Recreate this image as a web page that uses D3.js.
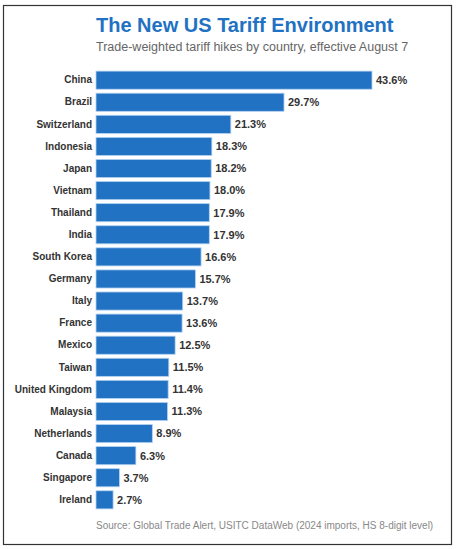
<!DOCTYPE html>
<html>
<head>
<meta charset="utf-8">
<script src="https://cdn.jsdelivr.net/npm/d3@7"></script>
<style>
  html, body { margin: 0; padding: 0; background: #fff; }
  svg { display: block; font-family: "Liberation Sans", Arial, sans-serif; }
</style>
</head>
<body>
<div class="container"></div>
<script>
const countries = ['China', 'Brazil', 'Switzerland', 'Indonesia', 'Japan', 'Vietnam', 'Thailand',
    'India', 'South Korea', 'Germany', 'Italy', 'France', 'Mexico', 'Taiwan', 'United Kingdom',
    'Malaysia', 'Netherlands', 'Canada', 'Singapore', 'Ireland'];
const tariffs = [43.6, 29.7, 21.3, 18.3, 18.2, 18.0, 17.9, 17.9, 16.6, 15.7, 13.7, 13.6, 12.5,
    11.5, 11.4, 11.3, 8.9, 6.3, 3.7, 2.7];

const WIDTH = 457;
const HEIGHT = 549;
const LEFT = 96;

var svg = d3.select('.container').append('svg')
    .attr('width', WIDTH)
    .attr('height', HEIGHT);

// frame
svg.append('rect')
    .attr('x', 3.5).attr('y', 5.5)
    .attr('width', 448).attr('height', 539)
    .attr('fill', '#fff')
    .attr('stroke', '#333')
    .attr('stroke-width', 1.2);

svg.append('text')
    .attr('x', LEFT).attr('y', 32)
    .attr('fill', '#2272c3')
    .attr('font-size', 20)
    .attr('font-weight', 'bold')
    .text('The New US Tariff Environment');

svg.append('text')
    .attr('x', LEFT).attr('y', 51)
    .attr('fill', '#666')
    .attr('font-size', 12.5)
    .text('Trade-weighted tariff hikes by country, effective August 7');

var xScale = d3.scaleLinear()
    .domain([0, 43.6])
    .range([LEFT, 372]);

var yScale = d3.scaleBand()
    .domain(countries)
    .range([70, 510])
    .paddingInner(0.18)
    .paddingOuter(0.05);

var data = countries.map((c, i) => ({ country: c, value: tariffs[i] }));

var g = svg.append('g');

g.selectAll('rect.bar').data(data)
    .enter().append('rect')
    .attr('class', 'bar')
    .attr('x', xScale(0))
    .attr('y', d => yScale(d.country))
    .attr('width', d => xScale(d.value) - xScale(0))
    .attr('height', yScale.bandwidth())
    .attr('fill', '#2272c4')
    .attr('stroke', '#b3d1f0')
    .attr('stroke-width', 0.8);

var yAxis = d3.axisLeft(yScale).tickSize(0).tickPadding(4);

svg.append('g')
    .attr('transform', `translate(${LEFT}, 0)`)
    .call(yAxis)
    .call(a => a.select('.domain').remove())
    .selectAll('text')
    .attr('font-family', '"Liberation Sans", Arial, sans-serif')
    .attr('font-size', 10)
    .attr('font-weight', 'bold')
    .attr('fill', '#333');

g.selectAll('text.val').data(data)
    .enter().append('text')
    .attr('class', 'val')
    .attr('x', d => xScale(d.value) + 4)
    .attr('y', d => yScale(d.country) + yScale.bandwidth() / 2)
    .attr('dy', '0.35em')
    .attr('font-size', 11)
    .attr('font-weight', 'bold')
    .attr('fill', '#333')
    .text(d => d.value.toFixed(1) + '%');

svg.append('text')
    .attr('x', LEFT).attr('y', 529)
    .attr('fill', '#888')
    .attr('font-size', 10)
    .text('Source: Global Trade Alert, USITC DataWeb (2024 imports, HS 8-digit level)');
</script>
</body>
</html>
